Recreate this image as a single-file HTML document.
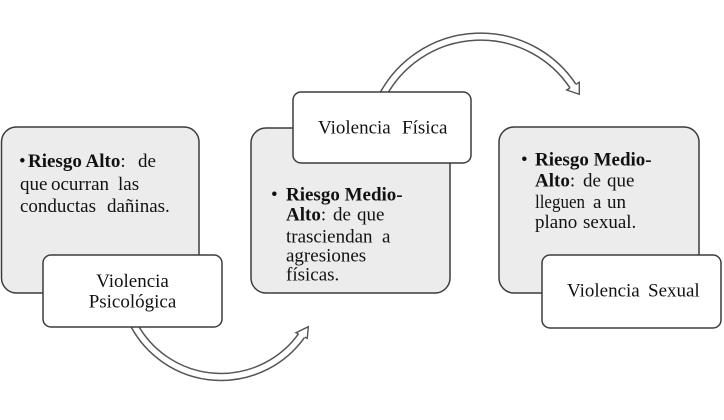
<!DOCTYPE html>
<html>
<head>
<meta charset="utf-8">
<style>
  html, body { margin: 0; padding: 0; background: #ffffff; }
  body { width: 724px; height: 420px; overflow: hidden; font-family: "Liberation Serif", "DejaVu Serif", serif; }
  svg { display: block; }
  svg text { font-family: "Liberation Serif", "DejaVu Serif", serif; font-size: 19px; fill: #111; }
  .b { font-weight: bold; }
</style>
</head>
<body>
<svg width="724" height="420" viewBox="0 0 724 420" xmlns="http://www.w3.org/2000/svg">
  <!-- Gray boxes -->
  <rect x="1.5" y="127" width="197.5" height="166" rx="15" ry="15" fill="#ececec" stroke="#3c3c3c" stroke-width="1.5"/>
  <rect x="251" y="128" width="199" height="165" rx="15" ry="15" fill="#ececec" stroke="#3c3c3c" stroke-width="1.5"/>
  <rect x="499" y="127" width="200" height="166" rx="15" ry="15" fill="#ececec" stroke="#3c3c3c" stroke-width="1.5"/>

  <!-- Bottom arrow -->
  <path d="M 134 325 A 99 99 0 0 0 301.65 335.5" fill="none" stroke="#555" stroke-width="8.5"/>
  <path d="M 134 325 A 99 99 0 0 0 301.65 335.5" fill="none" stroke="#fff" stroke-width="5.5"/>
  <path d="M 298.5 333.9 L 296 332.7 L 308.3 326.7 L 307.3 338.3 L 304.8 337.1" fill="#fff" stroke="#555" stroke-width="1.4" stroke-linejoin="miter"/>

  <!-- Top arrow -->
  <path d="M 383 94.7 A 111 111 0 0 1 573 86.15" fill="none" stroke="#555" stroke-width="8.5"/>
  <path d="M 383 94.7 A 111 111 0 0 1 573 86.15" fill="none" stroke="#fff" stroke-width="5.5"/>
  <path d="M 570 88 L 566.7 90 L 579.3 94.3 L 579.3 82.3 L 576 84.3" fill="#fff" stroke="#555" stroke-width="1.4" stroke-linejoin="miter"/>

  <!-- White label boxes -->
  <rect x="43" y="255" width="179" height="72" rx="8" ry="8" fill="#ffffff" stroke="#3c3c3c" stroke-width="1.5"/>
  <rect x="293" y="92" width="178" height="71" rx="8" ry="8" fill="#ffffff" stroke="#3c3c3c" stroke-width="1.5"/>
  <rect x="542" y="255" width="179" height="73" rx="8" ry="8" fill="#ffffff" stroke="#3c3c3c" stroke-width="1.5"/>

  <g font-family="Liberation Serif, DejaVu Serif, serif" font-size="19">
  <!-- Box 1 text -->
  <text x="19" y="167">•<tspan class="b" font-weight="bold" x="28">Riesgo Alto</tspan><tspan>:</tspan><tspan x="138">de</tspan></text>
  <text y="190"><tspan x="20">que</tspan><tspan x="51">ocurran</tspan><tspan x="118">las</tspan></text>
  <text y="212"><tspan x="20">conductas</tspan><tspan x="107">dañinas.</tspan></text>

  <!-- Box 1 label -->
  <text x="132.5" y="287" text-anchor="middle">Violencia</text>
  <text x="132.5" y="307.5" text-anchor="middle">Psicológica</text>

  <!-- Box 2 text -->
  <text x="271" y="200.5">•<tspan class="b" font-weight="bold" x="286">Riesgo Medio-</tspan></text>
  <text y="220.5"><tspan class="b" font-weight="bold" x="286">Alto</tspan><tspan>:</tspan><tspan x="333">de</tspan><tspan x="357">que</tspan></text>
  <text y="242.5"><tspan x="286">trasciendan</tspan><tspan x="382">a</tspan></text>
  <text y="261.5"><tspan x="286">agresiones</tspan></text>
  <text y="280.5"><tspan x="286">físicas.</tspan></text>

  <!-- Box 2 label -->
  <text y="133.5"><tspan x="318">Violencia</tspan><tspan x="402">Física</tspan></text>

  <!-- Box 3 text -->
  <text x="521" y="165.5">•<tspan class="b" font-weight="bold" x="535">Riesgo Medio-</tspan></text>
  <text y="186.5"><tspan class="b" font-weight="bold" x="535">Alto</tspan><tspan>:</tspan><tspan x="583">de</tspan><tspan x="607">que</tspan></text>
  <text y="208"><tspan x="535" textLength="50" lengthAdjust="spacingAndGlyphs">lleguen</tspan><tspan x="593">a</tspan><tspan x="607">un</tspan></text>
  <text y="228"><tspan x="535">plano</tspan><tspan x="583">sexual.</tspan></text>

  <!-- Box 3 label -->
  <text y="296.5"><tspan x="567">Violencia</tspan><tspan x="648">Sexual</tspan></text>
  </g>
</svg>
</body>
</html>
